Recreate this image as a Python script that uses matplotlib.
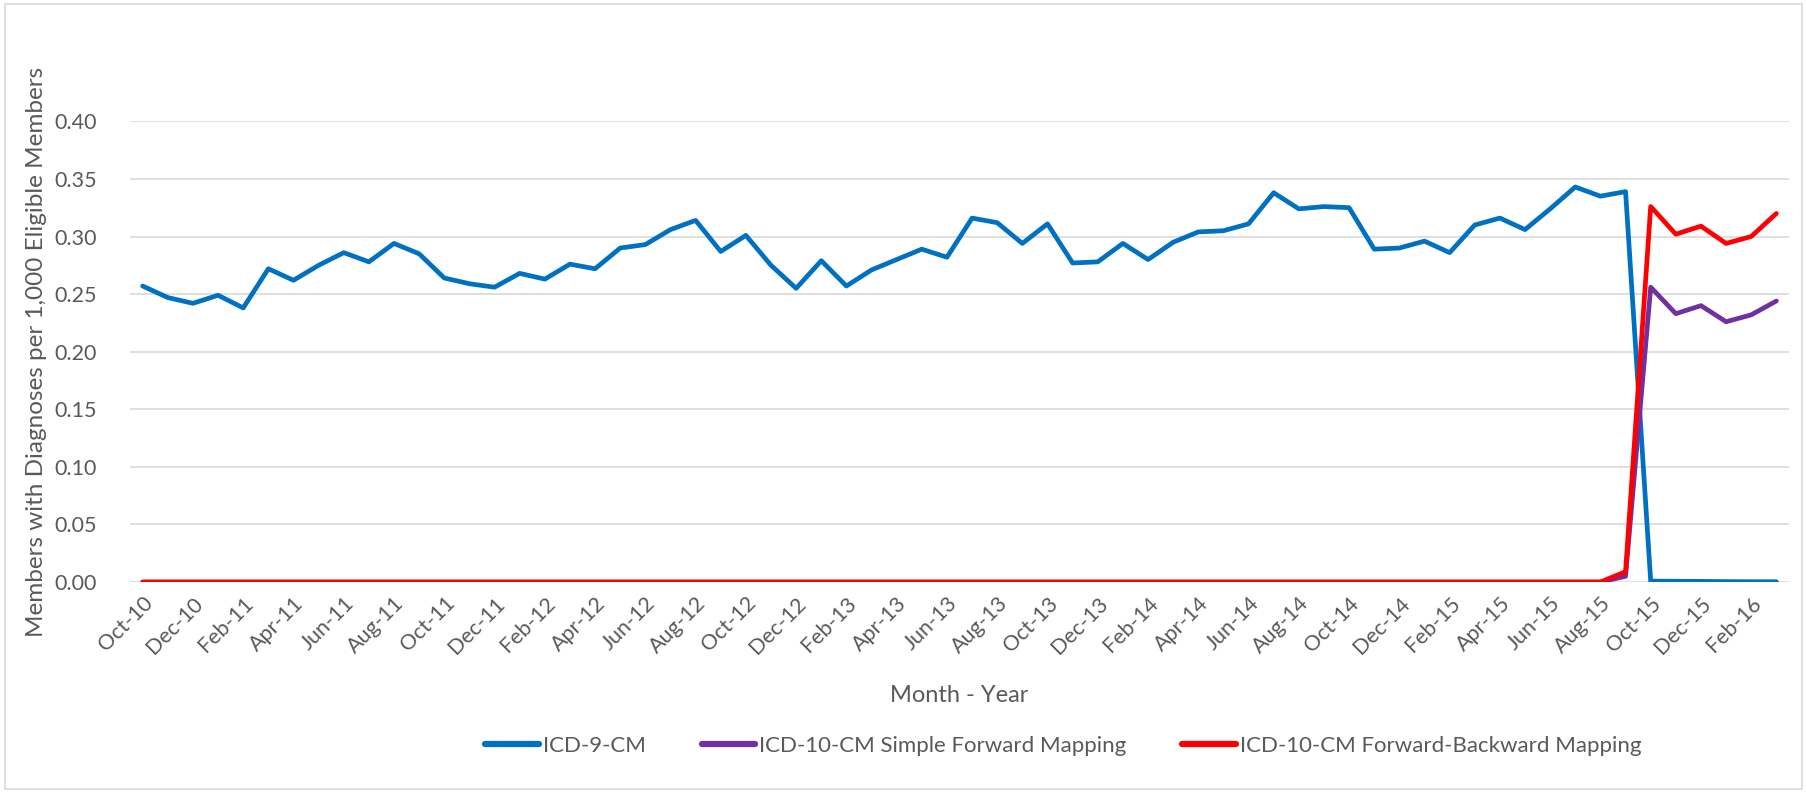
import pandas as pd
import matplotlib
matplotlib.use("Agg")
import matplotlib.pyplot as plt
from matplotlib.patches import Rectangle
from matplotlib.lines import Line2D

plt.rcParams['font.family'] = ['Lato', 'DejaVu Sans']

# Oct-10 .. Mar-16, one point per month
months = pd.date_range("2010-10-01", "2016-03-01", freq="MS").strftime("%b-%y").tolist()

icd9 = [0.257, 0.247, 0.242, 0.249, 0.238, 0.272, 0.262, 0.275, 0.286, 0.278,
        0.294, 0.285, 0.264, 0.259, 0.256, 0.268, 0.263, 0.276, 0.272, 0.290,
        0.293, 0.306, 0.314, 0.287, 0.301, 0.275, 0.255, 0.279, 0.257, 0.271,
        0.280, 0.289, 0.282, 0.316, 0.312, 0.294, 0.311, 0.277, 0.278, 0.294,
        0.280, 0.295, 0.304, 0.305, 0.311, 0.338, 0.324, 0.326, 0.325, 0.289,
        0.290, 0.296, 0.286, 0.310, 0.316, 0.306, 0.324, 0.343, 0.335, 0.339,
        0.0008, 0.0007, 0.0006, 0.0004, 0.0003, 0.0003]
simple_fwd = [0.0] * 59 + [0.005, 0.256, 0.233, 0.240, 0.226, 0.232, 0.244]
fwd_bwd = [0.0] * 59 + [0.009, 0.326, 0.302, 0.309, 0.294, 0.300, 0.320]

series_names = ["ICD-9-CM", "ICD-10-CM Simple Forward Mapping",
                "ICD-10-CM Forward-Backward Mapping"]
colors = ["#0070C0", "#7030A0", "#FF0000"]

fig = plt.figure(figsize=(18.07, 7.93), dpi=100)
ax = fig.add_axes([0.072, 0.266, 0.918, 0.581])

x = list(range(len(months)))
for vals, c in zip([icd9, simple_fwd, fwd_bwd], colors):
    ax.plot(x, vals, color=c, lw=3.4, solid_capstyle='round', solid_joinstyle='round', zorder=3)

ax.set_ylim(0, 0.40)
ax.set_xlim(-0.5, len(months) - 0.5)
ax.set_yticks([i * 0.05 for i in range(9)])
ax.set_yticklabels([f"{i * 0.05:.2f}" for i in range(9)])
ax.set_xticks(x[::2])
ax.set_xticklabels(months[::2], rotation=45, ha='right', rotation_mode='anchor')

ax.grid(axis='y', color='#D9D9D9', lw=1.2, zorder=0)
for s in ax.spines.values():
    s.set_visible(False)
ax.tick_params(axis='both', length=0, labelsize=15.5, colors='#595959')
ax.tick_params(axis='y', pad=24)
ax.tick_params(axis='x', pad=8)

ax.set_ylabel("Members with Diagnoses per 1,000 Eligible Members", fontsize=17.5,
              color='#595959', labelpad=5)
ax.set_xlabel("Month - Year", fontsize=17, color='#595959', labelpad=20)

handles = [Line2D([], [], color=c, lw=4.5, solid_capstyle='round') for c in colors]
fig.legend(handles, series_names, loc='center', bbox_to_anchor=(0.5885, 0.059),
           ncol=3, frameon=False, fontsize=16, handlelength=2.4, handletextpad=0.2,
           columnspacing=2.5, labelcolor='#595959')

fig.patches.append(Rectangle((0.003, 0.005), 0.994, 0.99, transform=fig.transFigure,
                             fill=False, edgecolor='#D9D9D9', lw=1.2))

fig.savefig("out.png", dpi=100)
